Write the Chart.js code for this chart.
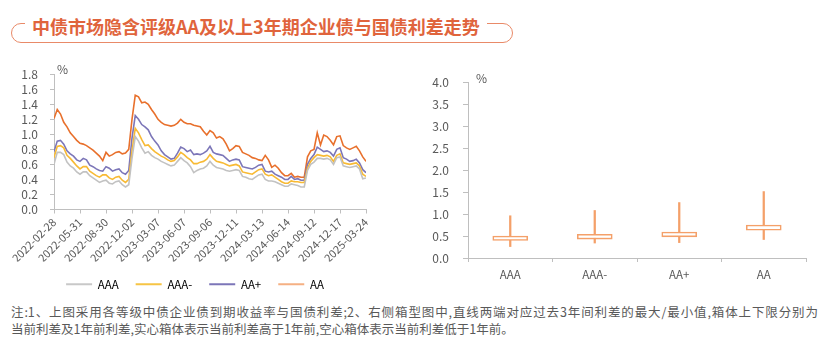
<!DOCTYPE html>
<html><head><meta charset="utf-8">
<script src="https://cdn.jsdelivr.net/npm/chart.js@4.4.1/dist/chart.umd.min.js"></script>
<style>
body{margin:0;width:824px;height:346px;background:#fff;position:relative;overflow:hidden;font-family:"Noto Sans CJK SC","Noto Sans",sans-serif;}
.frame{position:absolute;left:11px;top:23px;width:500px;height:18px;border:1px solid #E98A68;border-radius:10px;box-sizing:content-box;}
.title{position:absolute;left:25px;top:13px;padding:0 7px;background:#fff;color:#E0643C;font-weight:bold;font-size:18px;line-height:26px;white-space:nowrap;}
.unit{position:absolute;font-size:12px;color:#595959;line-height:14px;}
.note{position:absolute;left:11px;width:807px;font-size:12.5px;color:#595959;line-height:17px;white-space:nowrap;}
#n1{top:303px;text-align:justify;text-align-last:justify;white-space:normal;}
#n2{top:320px;}
#wl{position:absolute;left:0;top:55px;width:390px;height:245px;}
#wr{position:absolute;left:420px;top:60px;width:400px;height:230px;}
</style></head>
<body>
<div class="frame"></div>
<div class="title">中债市场隐含评级AA及以上3年期企业债与国债利差走势</div>
<div id="wl"><canvas id="cl"></canvas></div>
<div id="wr"><canvas id="cr"></canvas></div>
<div class="unit" style="left:57px;top:62px;">%</div>
<div class="unit" style="left:476px;top:71px;">%</div>
<div class="note" id="n1">注:1、上图采用各等级中债企业债到期收益率与国债利差;2、右侧箱型图中,直线两端对应过去3年间利差的最大/最小值,箱体上下限分别为</div>
<div class="note" id="n2">当前利差及1年前利差,实心箱体表示当前利差高于1年前,空心箱体表示当前利差低于1年前。</div>
<script>
const tickDates = ['2022-02-28','2022-05-31','2022-08-30','2022-12-02','2023-03-07','2023-06-07','2023-09-06','2023-12-11','2024-03-13','2024-06-14','2024-09-12','2024-12-17','2025-03-24'];
const seriesNames = ['AAA','AAA-','AA+','AA'];
const aaa = [0.60,0.76,0.76,0.73,0.63,0.58,0.55,0.50,
 0.47,0.50,0.50,0.45,0.42,0.39,0.36,0.38,
 0.39,0.35,0.34,0.37,0.38,0.33,0.30,0.33,
 0.68,0.97,0.91,0.82,0.75,0.77,0.72,0.69,
 0.67,0.64,0.62,0.60,0.58,0.59,0.64,0.69,
 0.65,0.62,0.57,0.49,0.52,0.54,0.55,0.58,
 0.64,0.59,0.56,0.55,0.54,0.52,0.51,0.52,
 0.53,0.52,0.44,0.43,0.41,0.40,0.43,0.46,
 0.47,0.40,0.38,0.38,0.37,0.35,0.33,0.31,
 0.31,0.34,0.33,0.32,0.30,0.30,0.52,0.60,
 0.63,0.68,0.68,0.67,0.68,0.66,0.60,0.69,
 0.70,0.58,0.57,0.56,0.57,0.58,0.54,0.41,
 0.42];
const aaaMinus = [0.69,0.84,0.85,0.82,0.72,0.68,0.63,0.58,
 0.54,0.57,0.57,0.51,0.48,0.45,0.43,0.46,
 0.46,0.42,0.40,0.43,0.44,0.39,0.36,0.40,
 0.78,1.08,1.02,0.93,0.85,0.86,0.81,0.77,
 0.74,0.71,0.69,0.66,0.64,0.65,0.70,0.76,
 0.73,0.69,0.66,0.61,0.61,0.63,0.64,0.67,
 0.73,0.68,0.64,0.63,0.62,0.60,0.58,0.59,
 0.60,0.58,0.50,0.49,0.48,0.47,0.50,0.53,
 0.54,0.47,0.45,0.46,0.43,0.40,0.37,0.35,
 0.35,0.38,0.37,0.37,0.36,0.36,0.55,0.64,
 0.69,0.73,0.72,0.71,0.72,0.70,0.64,0.72,
 0.74,0.62,0.61,0.60,0.61,0.62,0.58,0.47,
 0.44];
const aaPlus = [0.77,0.91,0.92,0.87,0.78,0.74,0.71,0.66,
 0.64,0.68,0.66,0.59,0.57,0.54,0.52,0.51,
 0.57,0.55,0.51,0.53,0.54,0.49,0.47,0.52,
 0.95,1.25,1.20,1.13,1.10,1.06,0.97,0.91,
 0.86,0.78,0.73,0.70,0.67,0.68,0.75,0.83,
 0.81,0.77,0.79,0.73,0.74,0.73,0.75,0.78,
 0.84,0.76,0.74,0.73,0.72,0.68,0.64,0.66,
 0.67,0.66,0.57,0.56,0.55,0.54,0.56,0.59,
 0.60,0.51,0.50,0.51,0.47,0.45,0.43,0.40,
 0.40,0.44,0.40,0.41,0.39,0.39,0.60,0.68,
 0.73,0.83,0.80,0.77,0.78,0.76,0.71,0.80,
 0.82,0.69,0.67,0.64,0.65,0.67,0.62,0.53,
 0.49];
const aa = [1.21,1.33,1.27,1.16,1.10,1.02,0.97,0.92,
 0.88,0.87,0.85,0.82,0.79,0.75,0.71,0.65,
 0.76,0.71,0.73,0.76,0.77,0.74,0.75,0.80,
 1.20,1.52,1.50,1.42,1.43,1.40,1.33,1.27,
 1.20,1.16,1.13,1.12,1.11,1.12,1.15,1.20,
 1.16,1.14,1.14,1.12,1.11,1.10,1.04,0.99,
 1.05,1.02,0.95,0.97,0.94,0.87,0.78,0.81,
 0.85,0.84,0.76,0.74,0.72,0.69,0.68,0.66,
 0.65,0.72,0.66,0.56,0.59,0.55,0.49,0.45,
 0.45,0.48,0.43,0.44,0.43,0.43,0.70,0.78,
 0.80,1.02,0.86,0.99,0.97,0.92,0.86,0.97,
 0.98,0.85,0.82,0.80,0.82,0.84,0.78,0.70,
 0.64];
const pointsPerTick = 8;

const boxCategories = ['AAA','AAA-','AA+','AA'];
const spreadMax = [0.96,1.08,1.26,1.51];
const spreadMin = [0.26,0.34,0.35,0.42];
const spreadNow = [0.40,0.43,0.48,0.63];
const spreadYearAgo = [0.50,0.54,0.59,0.75];

Chart.defaults.font.family = '"Noto Sans CJK SC","Noto Sans",sans-serif';
Chart.defaults.color = '#595959';
Chart.defaults.animation = false;

const lineColors = ['#C2C2C2','#F8BA34','#7C76B8','#E8702C'];
const legendColors = ['#C8C8C8','#F6C445','#7C76B8','#F5B083'];
const allSeries = [aaa, aaaMinus, aaPlus, aa];
const axisColor = '#BFBFBF';

new Chart(document.getElementById('cl'), {
  type: 'line',
  data: {
    datasets: allSeries.map((s, k) => ({
      label: seriesNames[k],
      data: s.map((v, i) => ({x: i, y: v})),
      borderColor: lineColors[k],
      backgroundColor: lineColors[k],
      borderWidth: 1.6,
      pointRadius: 0,
      tension: 0
    }))
  },
  options: {
    responsive: true, maintainAspectRatio: false,
    layout: {padding: {top: 18, right: 0, left: 0, bottom: 0}},
    plugins: {
      tooltip: {enabled: false},
      legend: {
        position: 'bottom',
        labels: {
          boxWidth: 26, boxHeight: 2, padding: 17, font: {size: 11.5}, color: '#595959',
          generateLabels: (chart) => seriesNames.map((n, k) => ({
            text: n, fillStyle: legendColors[k], strokeStyle: legendColors[k], lineWidth: 0, datasetIndex: k, hidden: false
          }))
        }
      }
    },
    scales: {
      x: {
        type: 'linear', min: 0, max: (tickDates.length - 1) * pointsPerTick,
        afterFit: (s) => { s.height = 52; },
        border: {color: axisColor},
        grid: {drawOnChartArea: false, drawTicks: true, tickLength: 4, color: axisColor},
        ticks: {
          stepSize: pointsPerTick, autoSkip: false, maxRotation: 45, minRotation: 45,
          font: {size: 11}, padding: 2,
          callback: (v) => tickDates[v / pointsPerTick] ?? ''
        }
      },
      y: {
        min: 0, max: 1.8,
        afterFit: (s) => { s.width = 54; },
        border: {color: axisColor},
        grid: {drawOnChartArea: false, drawTicks: true, tickLength: 4, color: axisColor},
        ticks: {stepSize: 0.2, autoSkip: false, font: {size: 12}, padding: 12, callback: (v) => v.toFixed(1)}
      },
      yPad: {
        position: 'right', display: true,
        afterFit: (s) => { s.width = 24; },
        border: {display: false}, grid: {display: false}, ticks: {display: false}
      }
    }
  }
});

const boxColor = '#F4A069';
new Chart(document.getElementById('cr'), {
  type: 'bar',
  data: {
    labels: boxCategories,
    datasets: [
      {
        label: 'box',
        data: boxCategories.map((c, i) => [spreadNow[i], spreadYearAgo[i]]),
        backgroundColor: '#FFFFFF',
        borderColor: boxColor, borderWidth: 1.6, borderSkipped: false,
        barThickness: 35, grouped: false, order: 0
      },
      {
        label: 'range',
        data: boxCategories.map((c, i) => [spreadMin[i], spreadMax[i]]),
        backgroundColor: boxColor, borderWidth: 0,
        barThickness: 1.6, grouped: false, order: 1
      }
    ]
  },
  options: {
    responsive: true, maintainAspectRatio: false,
    layout: {padding: {top: 22, right: 14, left: 0, bottom: 10}},
    plugins: {legend: {display: false}, tooltip: {enabled: false}},
    scales: {
      x: {
        afterFit: (s) => { s.height = 22; },
        border: {color: axisColor},
        grid: {drawOnChartArea: false, drawTicks: true, tickLength: 4, color: axisColor, offset: true},
        ticks: {font: {size: 11.5}, padding: 6}
      },
      y: {
        min: 0, max: 4,
        afterFit: (s) => { s.width = 48; },
        border: {color: axisColor},
        grid: {drawOnChartArea: false, drawTicks: true, tickLength: 5, color: axisColor},
        ticks: {stepSize: 0.5, font: {size: 12}, padding: 14, callback: (v) => v.toFixed(1)}
      }
    }
  }
});
</script>
</body></html>
